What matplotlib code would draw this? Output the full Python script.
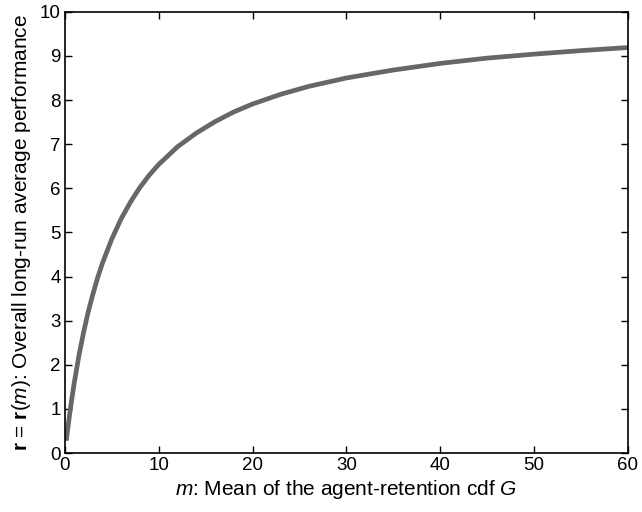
import matplotlib
matplotlib.use('Agg')
import matplotlib.pyplot as plt

plt.rcParams['font.family'] = ['Liberation Sans', 'DejaVu Sans']
plt.rcParams['mathtext.fontset'] = 'custom'
plt.rcParams['mathtext.rm'] = 'Liberation Sans'
plt.rcParams['mathtext.it'] = 'Liberation Sans:italic'
plt.rcParams['mathtext.bf'] = 'Liberation Sans:bold'

# values
m_vals = [0.15, 0.3, 0.5, 0.75, 1, 1.5, 2, 2.5, 3, 3.5, 4, 5, 6, 7, 8, 9, 10, 12, 14,
          16, 18, 20, 23, 26, 30, 35, 40, 45, 50, 55, 60]
r_vals = [0.28, 0.54, 0.86, 1.24, 1.59, 2.21, 2.74, 3.21, 3.61, 3.98, 4.30, 4.85,
          5.31, 5.69, 6.02, 6.30, 6.54, 6.94, 7.25, 7.51, 7.73, 7.91, 8.13, 8.31,
          8.50, 8.68, 8.83, 8.95, 9.04, 9.12, 9.19]

fig = plt.figure(figsize=(6.42, 5.12), dpi=100)
ax = fig.add_axes([0.101, 0.115, 0.877, 0.862])

ax.plot(m_vals, r_vals, color='#676767', linewidth=3.4, solid_capstyle='butt')

ax.set_xlim(0, 60)
ax.set_ylim(0, 10)
ax.set_xticks(range(0, 61, 10))
ax.set_yticks(range(0, 11))
ax.tick_params(direction='in', top=True, right=True, labelsize=13.5, length=5, width=1, pad=3)
for s in ax.spines.values():
    s.set_linewidth(1.2)

ax.set_xlabel('$m$: Mean of the agent-retention cdf $G$', fontsize=15, labelpad=3)
ax.set_ylabel(r'$\mathbf{r}$ = $\mathbf{r}$($m$): Overall long-run average performance',
              fontsize=15, labelpad=5)

fig.savefig('out.png', dpi=100)
